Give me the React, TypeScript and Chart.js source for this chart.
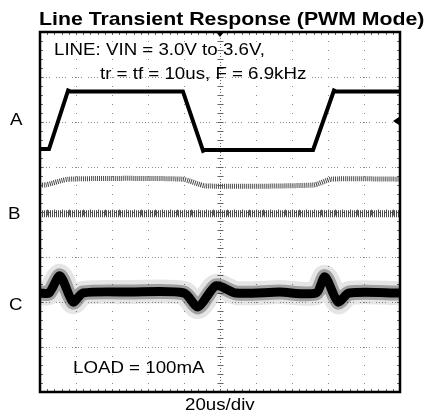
import React, { useEffect, useRef } from 'react';
import { Chart, registerables } from 'chart.js';

Chart.register(...registerables);

// ---- data (time in us, level in screen divisions, 0 = bottom of screen) ----
const TIME_A = [0, 5, 15.6, 16.6, 79.4, 90.6, 91.6, 151.7, 163.3, 164.3, 200];
const TRACE_A = [5.4, 5.4, 6.7, 6.68, 6.68, 5.36, 5.38, 5.38, 6.7, 6.68, 6.68];

const TIME_B1 = [0, 3, 16, 79, 92, 152, 162, 200];
const TRACE_B1 = [4.6, 4.6, 4.73, 4.73, 4.58, 4.6, 4.73, 4.73];

const TIME_B2 = [0, 50, 100, 150, 200];
const TRACE_B2 = [3.96, 3.96, 3.96, 3.96, 3.96];

const TIME_C = [0, 5, 11.1, 18.3, 23.9, 50, 80, 87.8, 97.8, 108.9, 133, 153.3, 158.3, 165.6, 171.7, 200];
const TRACE_C = [2.2, 2.2, 2.58, 2.0, 2.2, 2.22, 2.2, 1.89, 2.36, 2.2, 2.22, 2.2, 2.56, 2.0, 2.2, 2.2];

const X_DIV_LINES = [20, 40, 60, 80, 100, 120, 140, 160, 180];
const Y_DIV_LINES = [1, 2, 3, 4, 5, 6, 7];
const X_CENTER = 100;
const Y_CENTER = 4;
const TRIGGER_TIME = 100;
const A_REF_LEVEL = 6.02;

const TITLE = 'Line Transient Response (PWM Mode)';
const NOTE_1 = 'LINE: VIN = 3.0V to 3.6V,';
const NOTE_2 = 'tr = tf = 10us, F = 6.9kHz';
const LOAD_NOTE = 'LOAD = 100mA';
const X_LABEL = '20us/div';
const CHANNELS = ['A', 'B', 'C'];

const pts = (xs: number[], ys: number[]) => xs.map((x, i) => ({ x, y: ys[i] }));

const scopePlugin = {
  id: 'scope',
  beforeDatasetsDraw(chart: any) {
    const { ctx, chartArea: a, scales } = chart;
    const xs = scales.x;
    const ys = scales.y;
    ctx.save();
    ctx.lineWidth = 1;
    ctx.strokeStyle = '#8c8c8c';
    ctx.setLineDash([1, 8]);
    for (const t of X_DIV_LINES) {
      if (t === X_CENTER) continue;
      const px = Math.round(xs.getPixelForValue(t)) + 0.5;
      ctx.beginPath();
      ctx.moveTo(px, a.top);
      ctx.lineTo(px, a.bottom);
      ctx.stroke();
    }
    ctx.setLineDash([1, 2, 1, 2, 1, 2, 1, 6]);
    for (const v of Y_DIV_LINES) {
      if (v === Y_CENTER) continue;
      const py = Math.round(ys.getPixelForValue(v)) + 0.5;
      ctx.beginPath();
      ctx.moveTo(a.left, py);
      ctx.lineTo(a.right, py);
      ctx.stroke();
    }
    ctx.strokeStyle = '#666';
    ctx.setLineDash([1, 2]);
    const cx = Math.round(xs.getPixelForValue(X_CENTER)) + 0.5;
    const cy = Math.round(ys.getPixelForValue(Y_CENTER)) + 0.5;
    ctx.beginPath();
    ctx.moveTo(cx, a.top);
    ctx.lineTo(cx, a.bottom);
    ctx.moveTo(a.left, cy);
    ctx.lineTo(a.right, cy);
    ctx.stroke();
    ctx.setLineDash([]);
    ctx.beginPath();
    for (let v = 0.2; v < 8; v += 0.2) {
      const py = Math.round(ys.getPixelForValue(v)) + 0.5;
      ctx.moveTo(cx - 3, py);
      ctx.lineTo(cx + 3, py);
      ctx.moveTo(a.left, py);
      ctx.lineTo(a.left + 3, py);
      ctx.moveTo(a.right - 3, py);
      ctx.lineTo(a.right, py);
    }
    for (let t = 4; t < 200; t += 4) {
      const px = Math.round(xs.getPixelForValue(t)) + 0.5;
      ctx.moveTo(px, cy - 3);
      ctx.lineTo(px, cy + 3);
      ctx.moveTo(px, a.top);
      ctx.lineTo(px, a.top + 3);
      ctx.moveTo(px, a.bottom - 3);
      ctx.lineTo(px, a.bottom);
    }
    ctx.stroke();
    ctx.restore();
  },
  afterDatasetsDraw(chart: any) {
    const { ctx, chartArea: a, scales } = chart;
    ctx.save();
    ctx.setLineDash([]);
    ctx.strokeStyle = '#000';
    ctx.lineWidth = 2.5;
    ctx.strokeRect(a.left, a.top, a.right - a.left, a.bottom - a.top);
    const tx = scales.x.getPixelForValue(TRIGGER_TIME);
    ctx.fillStyle = '#000';
    ctx.beginPath();
    ctx.moveTo(tx - 4, a.top);
    ctx.lineTo(tx + 4, a.top);
    ctx.lineTo(tx, a.top + 5);
    ctx.closePath();
    ctx.fill();
    const ry = scales.y.getPixelForValue(A_REF_LEVEL);
    ctx.beginPath();
    ctx.moveTo(a.right - 1, ry - 4);
    ctx.lineTo(a.right - 1, ry + 4);
    ctx.lineTo(a.right - 7, ry);
    ctx.closePath();
    ctx.fill();
    ctx.restore();
  },
};

const textBase: React.CSSProperties = {
  position: 'absolute',
  fontFamily: '"Liberation Sans", Arial, sans-serif',
  whiteSpace: 'nowrap',
  lineHeight: 1,
  color: '#000',
  transformOrigin: 'left top',
};

function Label(props: { text: string; left: number; baseline: number; size: number; bold?: boolean; sx?: number }) {
  const { text, left, baseline, size, bold, sx = 1.1 } = props;
  return (
    <div
      style={{
        ...textBase,
        left,
        top: baseline - 0.8465 * size,
        fontSize: size,
        fontWeight: bold ? 700 : 400,
        transform: `scaleX(${sx})`,
      }}
    >
      {text}
    </div>
  );
}

export default function App() {
  const ref = useRef<HTMLCanvasElement>(null);
  useEffect(() => {
    if (!ref.current) return;
    const chart = new Chart(ref.current, {
      type: 'line',
      data: {
        datasets: [
          {
            label: 'A',
            data: pts(TIME_A, TRACE_A),
            borderColor: '#000',
            borderWidth: 4,
            tension: 0,
            pointRadius: 0,
            clip: 0,
          },
          {
            label: 'B1',
            data: pts(TIME_B1, TRACE_B1),
            borderColor: '#4a4a4a',
            borderWidth: 5,
            borderDash: [1, 1],
            tension: 0.2,
            pointRadius: 0,
            clip: 0,
          },
          {
            label: 'B2',
            data: pts(TIME_B2, TRACE_B2),
            borderColor: '#4a4a4a',
            borderWidth: 7,
            borderDash: [1, 1],
            pointRadius: 0,
            clip: 0,
          },
          {
            label: 'C core',
            data: pts(TIME_C, TRACE_C),
            borderColor: '#000',
            borderWidth: 9,
            tension: 0.25,
            pointRadius: 0,
            clip: 0,
          },
          {
            label: 'C mid',
            data: pts(TIME_C, TRACE_C),
            borderColor: 'rgba(0,0,0,0.3)',
            borderWidth: 15,
            tension: 0.25,
            pointRadius: 0,
            clip: 0,
          },
          {
            label: 'C fuzz',
            data: pts(TIME_C, TRACE_C),
            borderColor: 'rgba(0,0,0,0.1)',
            borderWidth: 24,
            tension: 0.25,
            pointRadius: 0,
            clip: 0,
          },
        ],
      },
      options: {
        responsive: false,
        animation: false,
        devicePixelRatio: 1,
        layout: { padding: { left: 40, top: 32, right: 28, bottom: 22 } },
        plugins: { legend: { display: false }, tooltip: { enabled: false }, title: { display: false } },
        scales: {
          x: { type: 'linear', min: 0, max: 200, display: false },
          y: { type: 'linear', min: 0, max: 8, display: false },
        },
      },
      plugins: [scopePlugin],
    } as any);
    return () => chart.destroy();
  }, []);

  return (
    <div style={{ position: 'fixed', left: 0, top: 0, width: 428, height: 414, background: '#fff', overflow: 'hidden' }}>
      <canvas ref={ref} width={428} height={414} style={{ position: 'absolute', left: 0, top: 0, display: 'block' }} />
      <Label text={TITLE} left={39} baseline={25} size={19} bold sx={1.12} />
      <Label text={NOTE_1} left={54} baseline={55} size={17} />
      <Label text={NOTE_2} left={100} baseline={79} size={17} />
      <Label text={LOAD_NOTE} left={73} baseline={373} size={17} />
      <Label text={X_LABEL} left={185} baseline={410} size={17} />
      <Label text={CHANNELS[0]} left={10} baseline={125} size={17} />
      <Label text={CHANNELS[1]} left={8} baseline={219} size={17} />
      <Label text={CHANNELS[2]} left={9} baseline={310} size={17} />
    </div>
  );
}
